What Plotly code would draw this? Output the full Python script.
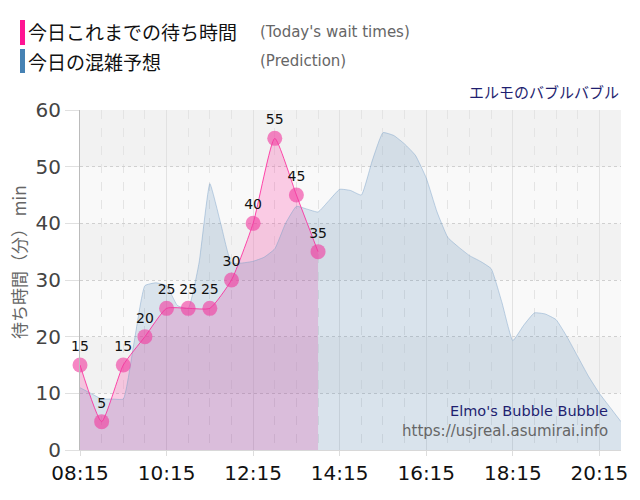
import plotly.graph_objects as go

DAY = "2024-01-01 "

# Today's wait times (every 30 min from 08:15)
wait_times = ["08:15", "08:45", "09:15", "09:45", "10:15", "10:45",
              "11:15", "11:45", "12:15", "12:45", "13:15", "13:45"]
wait_values = [15, 5, 15, 20, 25, 25, 25, 30, 40, 55, 45, 35]

# Prediction (every 15 min)
pred_times = ["08:15", "08:30", "08:45", "09:00", "09:15", "09:30", "09:45", "10:00",
              "10:15", "10:30", "10:45", "11:00", "11:15", "11:30", "11:45", "12:00",
              "12:15", "12:30", "12:45", "13:00", "13:15", "13:30", "13:45", "14:00",
              "14:15", "14:30", "14:45", "15:00", "15:15", "15:30", "15:45", "16:00",
              "16:15", "16:30", "16:45", "17:00", "17:15", "17:30", "17:45", "18:00",
              "18:15", "18:30", "18:45", "19:00", "19:15", "19:30", "19:45", "20:00",
              "20:15", "20:30", "20:45"]
pred_values = [11, 10, 9, 9, 9, 19, 29, 29.5, 29, 25.5, 25, 33, 47, 40, 33, 33,
               33.3, 34, 35.5, 40, 43, 42.5, 42, 44, 46, 45.8, 45, 51, 56, 55.5, 54, 52,
               48, 42, 37.5, 35.8, 34.3, 33.3, 32, 26, 19.3, 22, 24.2, 24, 23, 20, 16.5, 13,
               10, 7.5, 5]

tick_labels = ["08:15", "10:15", "12:15", "14:15", "16:15", "18:15", "20:15"]
y_ticks = [0, 10, 20, 30, 40, 50, 60]

wx = [DAY + t for t in wait_times]
px_ = [DAY + t for t in pred_times]
tickvals = [DAY + t for t in tick_labels]

W, H = 640, 500
L, R, T, B = 80, 19, 110, 50
PW, PH = W - L - R, H - T - B


def fx(p):
    return (p - L) / PW


def fy(p):
    return (H - B - p) / PH


fig = go.Figure()

# pink fill (below the prediction)
fig.add_trace(go.Scatter(
    x=wx, y=wait_values, mode="lines", fill="tozeroy",
    line=dict(color="rgba(255,20,147,0)", width=0, shape="spline", smoothing=0.5),
    fillcolor="rgba(255,20,147,0.2)", hoverinfo="skip", showlegend=False))

# prediction area
fig.add_trace(go.Scatter(
    x=px_, y=pred_values, mode="lines", fill="tozeroy",
    line=dict(color="rgba(120,160,200,0.45)", width=1, shape="spline", smoothing=0.4),
    fillcolor="rgba(70,130,180,0.18)", showlegend=False))

# pink line + markers + labels
fig.add_trace(go.Scatter(
    x=wx, y=wait_values, mode="lines+markers+text",
    line=dict(color="rgba(255,20,147,0.75)", width=1, shape="spline", smoothing=0.5),
    marker=dict(size=15, color="rgba(240,60,160,0.62)", line=dict(width=0)),
    text=[str(v) for v in wait_values], textposition="top center",
    textfont=dict(family="DejaVu Sans", size=14, color="#111"),
    cliponaxis=False, showlegend=False))

shapes = []
# alternating bands
for i, (y0, y1) in enumerate(zip(y_ticks[:-1], y_ticks[1:])):
    shapes.append(dict(type="rect", xref="paper", yref="y", x0=0, x1=1, y0=y0, y1=y1,
                       fillcolor="#f9f9f9" if i % 2 == 0 else "#f2f2f2",
                       line=dict(width=0), layer="below"))
# legend bars
shapes.append(dict(type="rect", xref="paper", yref="paper", x0=fx(20), x1=fx(25),
                   y0=fy(45), y1=fy(20), fillcolor="#ff1493", line=dict(width=0)))
shapes.append(dict(type="rect", xref="paper", yref="paper", x0=fx(20), x1=fx(25),
                   y0=fy(73), y1=fy(49), fillcolor="#4682b4", line=dict(width=0)))

JP = "Noto Sans CJK JP"
annotations = [
    dict(text="今日これまでの待ち時間", x=fx(26), y=fy(32), xanchor="left", yanchor="middle",
         font=dict(family=JP, size=19, color="#111")),
    dict(text="(Today's wait times)", x=fx(258), y=fy(32), xanchor="left", yanchor="middle",
         font=dict(family="DejaVu Sans", size=15, color="#666")),
    dict(text="今日の混雑予想", x=fx(26), y=fy(61), xanchor="left", yanchor="middle",
         font=dict(family=JP, size=19, color="#111")),
    dict(text="(Prediction)", x=fx(258), y=fy(61), xanchor="left", yanchor="middle",
         font=dict(family="DejaVu Sans", size=15, color="#666")),
    dict(text="エルモのバブルバブル", x=fx(621), y=fy(91), xanchor="right", yanchor="middle",
         font=dict(family=JP, size=15, color="#1f1f70")),
    dict(text="Elmo's Bubble Bubble", x=fx(610), y=fy(411), xanchor="right", yanchor="middle",
         font=dict(family="DejaVu Sans", size=14.5, color="#1f1f70")),
    dict(text="https://usjreal.asumirai.info", x=fx(610), y=fy(431), xanchor="right",
         yanchor="middle", font=dict(family="DejaVu Sans", size=15, color="#666")),
    # y-axis title
    dict(text="待ち時間（分） min", x=fx(18), y=fy(262), xanchor="center", yanchor="middle",
         textangle=-90, font=dict(family=JP, size=17, color="#666")),
]
for a in annotations:
    a.update(xref="paper", yref="paper", showarrow=False)

fig.update_layout(
    width=W, height=H,
    margin=dict(l=L, r=R, t=T, b=B, pad=0),
    paper_bgcolor="white", plot_bgcolor="#f9f9f9",
    shapes=shapes, annotations=annotations,
    font=dict(family="DejaVu Sans"),
    xaxis=dict(
        type="date", range=[DAY + "08:15", DAY + "20:45"],
        tickvals=tickvals, ticktext=tick_labels,
        tickfont=dict(family="DejaVu Sans", size=20, color="#111"),
        showgrid=True, gridcolor="#e2e2e2", gridwidth=1,
        ticks="outside", ticklen=5, tickcolor="#ddd",
        showline=True, linecolor="#d8d8d8", linewidth=1,
        minor=dict(dtick=1800000, tick0=DAY + "08:15", showgrid=True,
                   gridcolor="#e4e4e4", griddash="dash", gridwidth=1),
        zeroline=False, fixedrange=True,
    ),
    yaxis=dict(
        range=[0, 60], tickvals=y_ticks,
        tickfont=dict(family="DejaVu Sans", size=20, color="#444"),
        showgrid=True, gridcolor="#d0d0d0", griddash="dot", gridwidth=1,
        ticks="outside", ticklen=14, tickcolor="#e0e0e0",
        showline=True, linecolor="#bbbbbb", linewidth=1,
        zeroline=False, fixedrange=True,
    ),
)

fig.write_html("out.html", config={"displayModeBar": False},
               post_script="document.body.style.margin='0px';")
